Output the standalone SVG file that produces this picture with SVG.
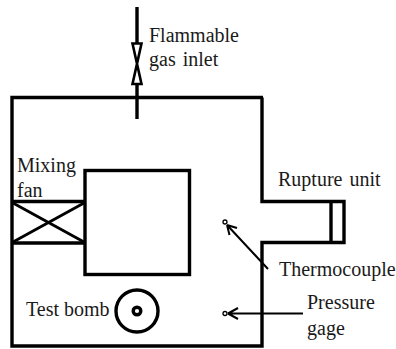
<svg xmlns="http://www.w3.org/2000/svg" width="396" height="349" viewBox="0 0 396 349">
<style>
.w{fill:none;stroke:#000;stroke-width:3.4}
.v{fill:#fff;stroke:#000;stroke-width:2.6}
.x{fill:none;stroke:#000;stroke-width:2.8}
.t{fill:none;stroke:#000;stroke-width:2}
text{font-family:"Liberation Serif","Times New Roman",serif;font-size:20px;fill:#1a1a1a}
.s{word-spacing:2px}
</style>
<rect width="396" height="349" fill="#fff"/>
<g id="chamber"><path class="w" d="M263 97.500H12V346H262V242.500H344V201.500H262V97.500"/><path class="w" d="M331 201.500V242.500"/></g>
<g id="inlet"><path class="w" d="M137 7V44M137 84V119"/><path class="v" d="M132.500 43.500H141.500L132.500 84H141.500Z"/></g>
<g id="fan"><path class="w" d="M12 201.500H84M12 243H84"/><path class="x" d="M13 203L84 242M13 242L84 203"/></g>
<g id="box"><rect class="w" x="85" y="170.500" width="104.500" height="104" fill="#fff"/></g>
<g id="bomb"><circle cx="137" cy="311" r="21" class="w"/><circle cx="137" cy="311" r="3.800" class="w"/></g>
<g id="connectors">
<circle cx="225" cy="222" r="2" fill="#fff" stroke="#000" stroke-width="1.300"/>
<path class="t" d="M268 269L227 225M227 225L229.500 235M227 225L237 228"/>
<circle cx="225" cy="313.500" r="2" fill="#fff" stroke="#000" stroke-width="1.300"/>
<path class="t" d="M303 313.500H228M228 313.500L238 308M228 313.500L238 319"/>
</g>
<g id="labels">
<text x="149" y="42">Flammable</text>
<text x="149" y="66" class="s">gas inlet</text>
<text x="17" y="172">Mixing</text>
<text x="17" y="197">fan</text>
<text x="26" y="316">Test bomb</text>
<text x="278" y="186" class="s">Rupture unit</text>
<text x="279" y="276">Thermocouple</text>
<text x="307" y="309">Pressure</text>
<text x="307" y="335">gage</text>
</g>
</svg>
